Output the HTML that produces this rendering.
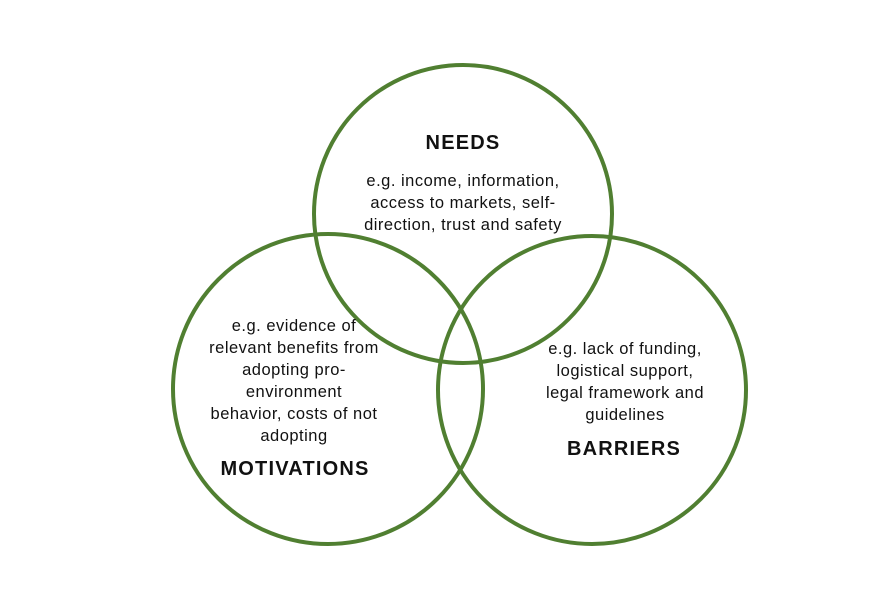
<!DOCTYPE html>
<html><head><style>
html,body{margin:0;padding:0;background:#fff;}
svg{display:block;}
text{font-family:"Liberation Sans",sans-serif;fill:#111;}
.t{font-size:16.5px;letter-spacing:0.5px;}
.b{font-size:20px;font-weight:bold;letter-spacing:1.2px;}
</style></head><body>
<svg width="885" height="598" viewBox="0 0 885 598">
<g fill="none" stroke="#507f31" stroke-width="4">
<circle cx="463" cy="214" r="149"/>
<circle cx="328" cy="389" r="155"/>
<circle cx="592" cy="390" r="154"/>
</g>
<g text-anchor="middle">
<text class="b" x="463" y="149">NEEDS</text>
<text class="t" x="463" y="186">e.g. income, information,</text>
<text class="t" x="463" y="208">access to markets, self-</text>
<text class="t" x="463" y="230">direction, trust and safety</text>

<text class="t" x="294" y="331">e.g. evidence of</text>
<text class="t" x="294" y="353">relevant benefits from</text>
<text class="t" x="294" y="375">adopting pro-</text>
<text class="t" x="294" y="397">environment</text>
<text class="t" x="294" y="419">behavior, costs of not</text>
<text class="t" x="294" y="441">adopting</text>
<text class="b" x="295" y="475">MOTIVATIONS</text>

<text class="t" x="625" y="354">e.g. lack of funding,</text>
<text class="t" x="625" y="376">logistical support,</text>
<text class="t" x="625" y="398">legal framework and</text>
<text class="t" x="625" y="420">guidelines</text>
<text class="b" x="624" y="455">BARRIERS</text>
</g>
</svg>
</body></html>
